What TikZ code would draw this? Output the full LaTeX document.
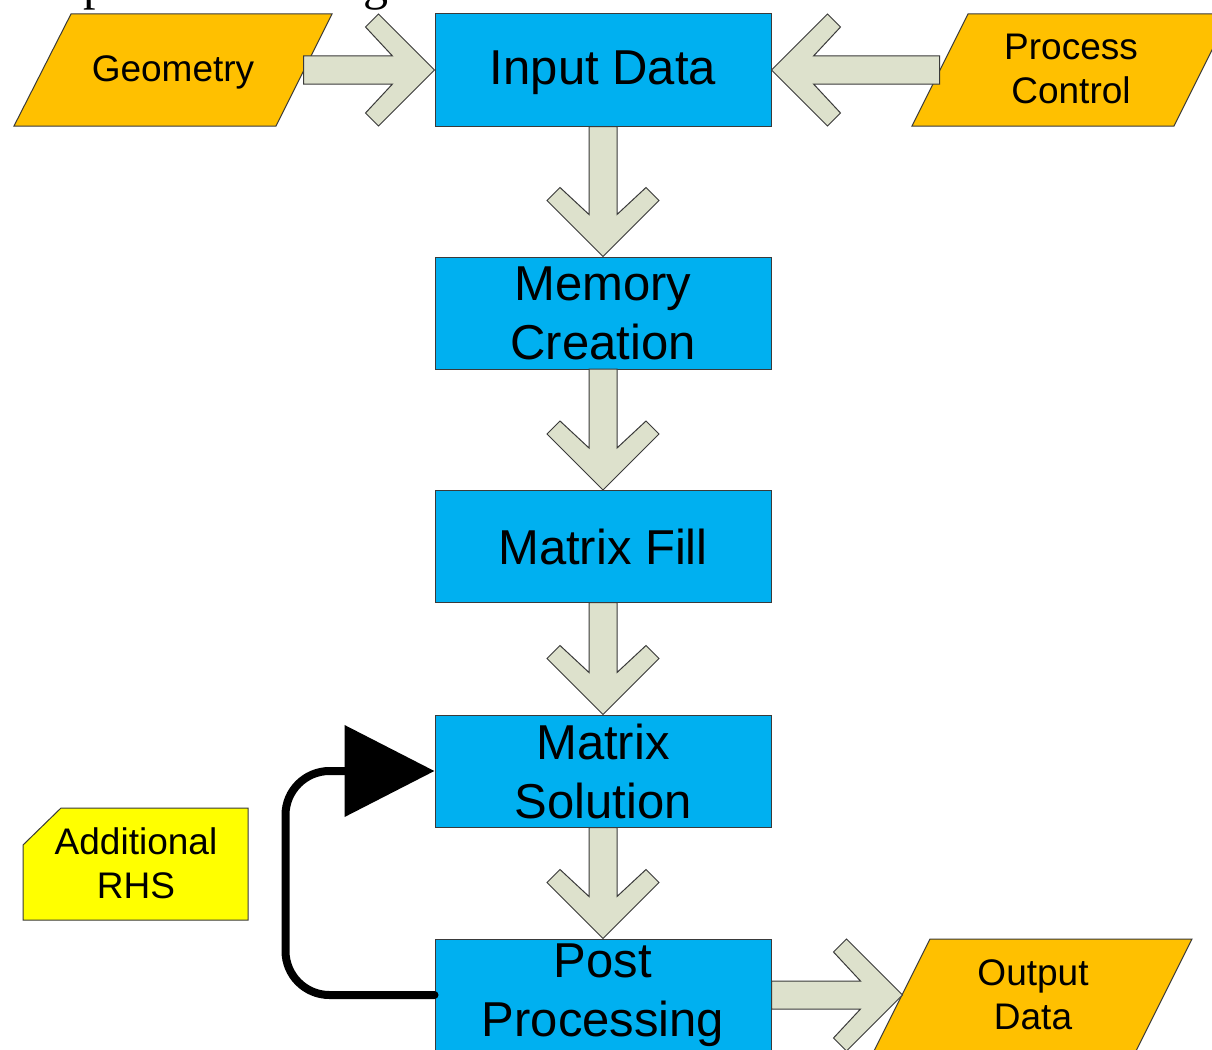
\documentclass[tikz,border=0pt]{standalone}
\usepackage{fontspec}
\setmainfont{Liberation Sans}
\newfontfamily\ttlserif{Liberation Serif}
\usetikzlibrary{arrows.meta,calc}
\definecolor{boxcyan}{HTML}{00B0F0}
\definecolor{paraorange}{HTML}{FFC000}
\definecolor{rhsyellow}{HTML}{FFFF00}
\definecolor{arrowfill}{HTML}{DDE1CC}
\definecolor{edgegray}{HTML}{3A3A3A}
\tikzset{
 mainbox/.style={draw=edgegray, line width=0.75pt, fill=boxcyan, minimum width=252pt, minimum height=84pt, align=center, inner sep=0pt, font=\fontsize{36.75}{44.25}\selectfont},
 sidetext/.style={align=center, inner sep=0pt, font=\fontsize{27.75}{33}\selectfont},
 parashape/.style={draw=edgegray, line width=0.75pt, fill=paraorange},
 noteshape/.style={draw=edgegray, line width=0.75pt, fill=rhsyellow},
 titlefrag/.style={anchor=base west, inner sep=0pt, font=\ttlserif\fontsize{37.5}{40}\selectfont},
 pics/fatarrow/.style={code={
   \draw[draw=edgegray, line width=0.75pt, fill=arrowfill, line join=miter]
     (0,0) -- (-56,56) -- (-69,43) -- (-42,14) -- (-#1,14) -- (-#1,-14)
     -- (-42,-14) -- (-69,-43) -- (-56,-56) -- cycle;
 }},
 loopline/.style={line width=6pt, line cap=round, rounded corners=33pt, -{Triangle[length=67.5pt,width=67.5pt]}},
}
\begin{document}
\begin{tikzpicture}[x=0.75pt, y=-0.75pt]
\useasboundingbox (0,0) rectangle (1212,1049);
\clip (0,0) rectangle (1212,1049);
\fill[white] (0,0) rectangle (1212,1049);

% clipped title fragments
\node[titlefrag] (tp) at (83,0) {p};
\node[titlefrag] (tg) at (363,0) {g};

% parallelograms and note
\draw[parashape] (71,14) -- (332,14) -- (276,126) -- (14,126) -- cycle;
\node[sidetext] (geo) at (173,72) {Geometry};
\draw[parashape] (968,14) -- (1230,14) -- (1174,126) -- (912,126) -- cycle;
\node[sidetext] (pc) at (1071,69) {Process\\Control};
\draw[parashape] (930,939) -- (1192,939) -- (1136,1051) -- (874,1051) -- cycle;
\node[sidetext] (out) at (1033,995) {Output\\Data};
\draw[noteshape] (61,808) -- (248,808) -- (248,920) -- (23,920) -- (23,845) -- cycle;
\node[sidetext] (rhs) at (136,863) {Additional\\RHS};

% main boxes
\node[mainbox, text depth=3pt] (in) at (603,70) {Input Data};
\node[mainbox] (mem)  at (603,313)   {Memory\\Creation};
\node[mainbox] (fill) at (603,546.5) {Matrix Fill};
\node[mainbox] (sol)  at (603,771)   {Matrix\\Solution};
\node[mainbox] (post) at (603,995)   {Post\\Processing};

% block arrows
\pic at (in.west) {fatarrow=131};
\pic[rotate=180] at (in.east) {fatarrow=168};
\pic[rotate=-90] at (mem.north) {fatarrow=130};
\pic[rotate=-90] at (fill.north) {fatarrow=121};
\pic[rotate=-90] at (sol.north) {fatarrow=112};
\pic[rotate=-90] at (post.north) {fatarrow=111};
\pic at ($(post.east)+(131,0)$) {fatarrow=131};

% loop connector
\draw[loopline] (post.west) -- ++(-149,0) |- (sol.west);
\end{tikzpicture}
\end{document}
